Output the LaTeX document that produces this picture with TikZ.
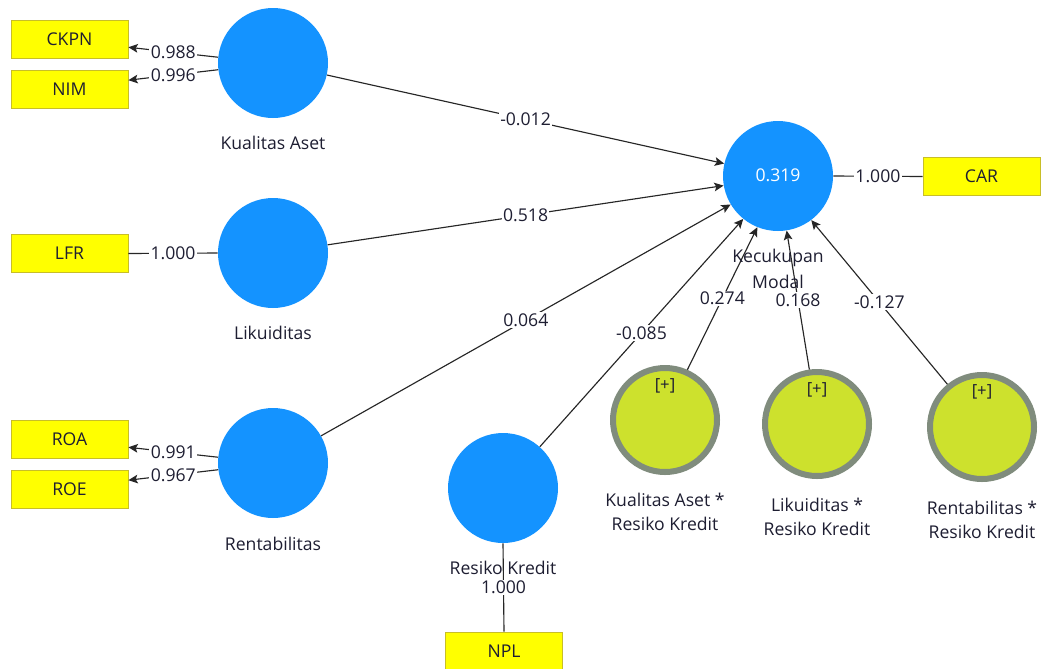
\documentclass[tikz,border=0pt]{standalone}
\usepackage{fontspec}
\setmainfont{Open Sans}
\usepackage{tikz}
\usetikzlibrary{arrows.meta,calc,positioning}
\definecolor{lvblue}{RGB}{20,147,255}
\definecolor{modfill}{RGB}{205,225,45}
\definecolor{modedge}{RGB}{128,140,125}
\definecolor{indfill}{RGB}{255,255,0}
\definecolor{indedge}{RGB}{200,190,40}
\definecolor{txtcol}{RGB}{30,30,50}
\tikzset{
  latent/.style={circle, fill=lvblue, minimum size=82.5pt, inner sep=0pt},
  modlatent/.style={circle, fill=modfill, draw=modedge, line width=4.5pt, minimum size=78pt, inner sep=0pt},
  indic/.style={rectangle, fill=indfill, draw=indedge, line width=0.6pt, minimum width=87.75pt, minimum height=28.5pt, font=\fontsize{13.2}{16}\selectfont, text=txtcol},
  lvname/.style={font=\fontsize{13.2}{18.5}\selectfont, text=txtcol, align=center},
  coef/.style={fill=white, inner sep=1pt, font=\fontsize{13.2}{16}\selectfont, text=txtcol},
  path/.style={draw=black!85, line width=0.85pt, -{Stealth[length=7pt,width=6.5pt,inset=1.5pt]}},
  load/.style={draw=black!85, line width=0.85pt},
}
\begin{document}
\begin{tikzpicture}[x=0.75pt,y=-0.75pt]
  % canvas
  \fill[white] (0,0) rectangle (1041,668);
  \useasboundingbox (0,0) rectangle (1041,668);
  % latent variables
  \node[latent] (ka) at (273,63) {};
  \node[latent] (lk) at (273,253) {};
  \node[latent] (rt) at (273,463) {};
  \node[latent] (rk) at (503,488) {};
  \node[latent, text=white, font=\fontsize{13.2}{16}\selectfont] (km) at (778,176) {\raisebox{2pt}{0.319}};
  % moderating effects
  \node[modlatent] (m1) at (665,420) {};
  \node[modlatent] (m2) at (817,424) {};
  \node[modlatent] (m3) at (982,427) {};
  \node[lvname, font=\fontsize{12.5}{14}\selectfont] (m1p) at (665,386) {[+]};
  \node[lvname, font=\fontsize{12.5}{14}\selectfont] (m2p) at (817,390) {[+]};
  \node[lvname, font=\fontsize{12.5}{14}\selectfont] (m3p) at (982,392) {[+]};
  % indicators
  \node[indic] (ckpn) at (69.5,39) {CKPN};
  \node[indic] (nim) at (69.5,89.5) {NIM};
  \node[indic] (lfr) at (69.5,253.5) {LFR};
  \node[indic] (roa) at (69.5,439) {ROA};
  \node[indic] (roe) at (69.5,489.5) {ROE};
  \node[indic] (car) at (981.5,176.5) {CAR};
  \node[indic] (npl) at (504,651) {NPL};
  % outer loadings
  \draw[path] (ka.174) to node[coef] {0.988} (ckpn.-8);
  \draw[path] (ka.187) to node[coef] {0.996} (nim.9);
  \draw[load] (lk.west) to node[coef] {1.000} (lfr.east);
  \draw[path] (rt.174) to node[coef] {0.991} (roa.-8);
  \draw[path] (rt.187) to node[coef] {0.967} (roe.9);
  \draw[load] (km.east) to node[coef] {1.000} (car.west);
  \draw[load] (rk.south) to node[coef] {1.000} (npl.north);
  % inner model
  \draw[path] (ka) to node[coef] {-0.012} (km.167);
  \draw[path] (lk) to node[coef] {0.518} (km.190);
  \draw[path] (rt) to node[coef] {0.064} (km.211);
  \draw[path] (rk) to node[coef] {-0.085} (km.231);
  \draw[path] (m1.66) to node[coef] {0.274} (km.248);
  \draw[path] (m2.98) to node[coef] {0.168} (km.279);
  \draw[path] (m3.129) to node[coef] {-0.127} (km.307);
  % construct names
  \node[lvname] (kan) at (273,143) {Kualitas Aset};
  \node[lvname] (lkn) at (273,333) {Likuiditas};
  \node[lvname] (rtn) at (273,544) {Rentabilitas};
  \node[lvname] (rkn) at (503,568) {Resiko Kredit};
  \node[lvname, font=\fontsize{13.2}{20}\selectfont] (kmn) at (778,269) {Kecukupan\\Modal};
  \node[lvname] (m1n) at (665,512) {Kualitas Aset *\\Resiko Kredit};
  \node[lvname] (m2n) at (817,517) {Likuiditas *\\Resiko Kredit};
  \node[lvname] (m3n) at (982,520) {Rentabilitas *\\Resiko Kredit};
\end{tikzpicture}
\end{document}
